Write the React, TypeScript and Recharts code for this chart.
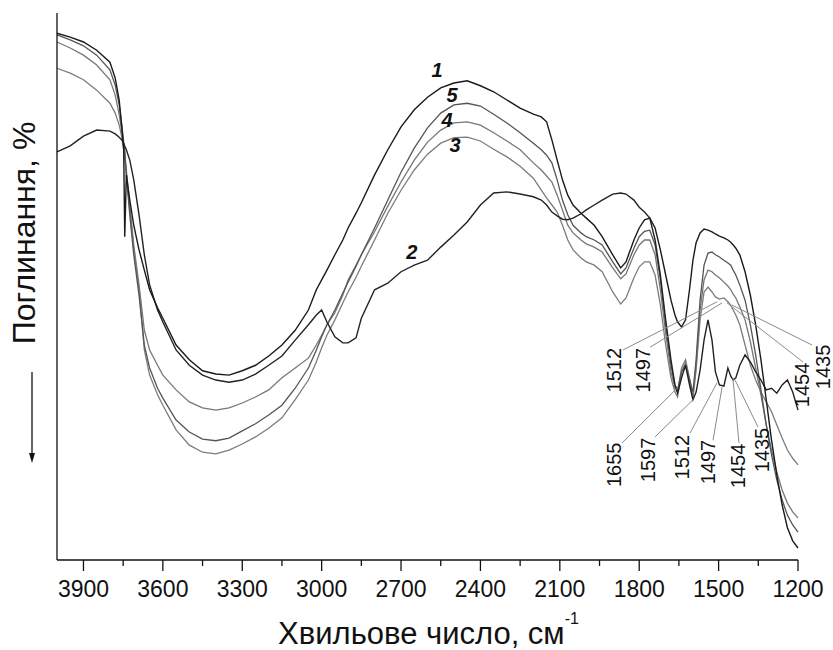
import { LineChart, Line, XAxis, YAxis, ReferenceLine, ReferenceDot } from 'recharts';

const FONT = '"Liberation Sans", Arial, sans-serif';

// wavenumber grid, cm-1 (shared by all five spectra)
const wavenumbers = [
  4000, 3950, 3900, 3850, 3800, 3780, 3765, 3755, 3748, 3744,
  3738, 3725, 3710, 3690, 3670, 3650, 3620, 3600, 3550, 3500,
  3450, 3400, 3350, 3300, 3250, 3200, 3150, 3100, 3050, 3020,
  3000, 2980, 2950, 2920, 2900, 2870, 2850, 2800, 2750, 2700,
  2650, 2600, 2550, 2500, 2450, 2400, 2350, 2300, 2250, 2200,
  2170, 2150, 2130, 2110, 2090, 2070, 2050, 2020, 2000, 1970,
  1940, 1900, 1870, 1850, 1820, 1800, 1780, 1760, 1740, 1720,
  1700, 1680, 1665, 1655, 1640, 1625, 1610, 1597, 1585, 1570,
  1555, 1540, 1525, 1512, 1497, 1480, 1465, 1454, 1445, 1435,
  1420, 1400, 1380, 1360, 1340, 1320, 1300, 1280, 1260, 1240,
  1220, 1200,
];

// absorbance, arbitrary units (0 = bottom of frame)
const curve1 = [
  96.3, 95.6, 94.7, 93.2, 91.0, 88.1, 84.1, 79.0, 75.0, 59.1,
  70.4, 65.8, 61.2, 56.7, 53.0, 49.4, 46.1, 44.2, 39.3, 36.6,
  34.6, 34.0, 33.8, 34.6, 35.6, 37.3, 39.3, 42.0, 45.7, 49.4,
  51.2, 53.0, 55.8, 58.5, 60.7, 63.4, 65.3, 70.4, 75.0, 79.2,
  82.3, 84.6, 86.3, 87.2, 87.6, 86.7, 85.6, 84.1, 82.6, 81.5,
  81.0, 80.1, 76.8, 73.1, 69.5, 66.7, 64.9, 63.4, 62.5, 61.2,
  59.1, 55.8, 53.4, 54.5, 58.5, 60.7, 62.2, 62.5, 60.7, 56.7,
  52.1, 47.5, 44.8, 43.5, 42.6, 43.9, 49.4, 54.8, 58.0, 59.8,
  60.5, 60.3, 60.0, 59.6, 59.2, 58.9, 58.5, 58.1, 57.6, 57.0,
  55.8, 52.7, 48.4, 43.0, 36.6, 29.3, 21.9, 15.5, 10.1, 5.9,
  3.5, 2.2,
];

const curve2 = [
  74.6, 75.7, 77.5, 78.6, 78.4, 77.9, 77.3, 76.8, 76.2, 75.7,
  75.0, 73.1, 69.5, 63.1, 55.8, 50.3, 45.7, 43.5, 38.4, 35.6,
  33.8, 32.9, 32.5, 32.9, 34.0, 35.6, 37.3, 40.2, 43.0, 44.8,
  45.7, 43.5, 40.8, 39.7, 39.7, 40.6, 44.2, 49.4, 50.6, 52.7,
  53.9, 54.8, 57.2, 59.4, 61.8, 64.9, 67.1, 67.3, 66.9, 66.4,
  65.8, 64.9, 63.6, 62.9, 62.3, 62.2, 62.5, 63.3, 64.0, 64.9,
  65.8, 66.9, 67.1, 66.9, 65.8, 64.5, 63.6, 62.5, 58.5, 52.1,
  43.9, 36.6, 32.0, 30.5, 33.3, 35.6, 32.0, 29.3, 30.7, 34.7,
  40.2, 43.9, 40.2, 34.4, 32.0, 31.8, 35.1, 33.6, 32.9, 33.3,
  35.6, 37.5, 36.2, 34.4, 32.9, 31.1, 31.4, 30.5, 32.0, 32.9,
  30.7, 27.4,
];

const curve3 = [
  89.9, 89.0, 87.8, 85.9, 83.5, 81.7, 79.5, 77.3, 75.0, 73.5,
  70.4, 64.0, 56.7, 49.4, 38.4, 33.8, 30.2, 28.3, 23.8, 21.0,
  19.7, 19.4, 20.1, 21.2, 22.5, 24.1, 26.0, 29.3, 32.9, 36.2,
  38.8, 41.1, 43.9, 47.0, 49.0, 51.7, 53.7, 58.5, 63.4, 67.6,
  71.3, 74.2, 76.2, 77.2, 77.3, 76.6, 75.1, 73.7, 72.0, 69.8,
  67.6, 66.2, 64.9, 63.6, 61.2, 58.5, 56.7, 55.2, 54.5, 53.9,
  52.7, 49.0, 46.8, 47.9, 51.6, 53.6, 54.5, 54.5, 52.1, 46.6,
  39.3, 33.3, 30.7, 29.8, 34.4, 36.0, 32.9, 29.6, 34.7, 43.9,
  49.0, 49.9, 49.0, 48.1, 47.7, 47.9, 47.2, 46.6, 45.7, 44.8,
  43.0, 39.3, 35.6, 32.9, 30.7, 28.9, 27.1, 24.7, 22.3, 20.1,
  18.6, 17.4,
];

const curve4 = [
  94.7, 93.6, 92.3, 90.5, 87.8, 85.0, 81.4, 78.2, 75.7, 74.0,
  71.3, 64.9, 57.6, 50.3, 42.0, 38.4, 35.6, 33.8, 31.1, 28.9,
  27.8, 27.4, 27.8, 28.7, 29.8, 31.1, 33.3, 35.1, 36.9, 39.3,
  41.1, 43.0, 45.2, 48.4, 51.2, 53.9, 55.8, 60.0, 64.7, 69.1,
  73.1, 76.4, 78.6, 79.9, 80.1, 79.5, 78.1, 76.6, 75.0, 72.6,
  71.3, 70.2, 69.1, 66.7, 64.0, 61.2, 59.8, 58.5, 57.8, 57.2,
  56.3, 53.4, 51.4, 52.3, 55.8, 57.6, 58.5, 58.5, 55.8, 49.4,
  41.5, 34.4, 31.4, 30.7, 35.1, 36.6, 33.3, 30.2, 35.6, 45.7,
  51.2, 53.0, 52.7, 52.1, 51.6, 50.8, 50.1, 49.4, 48.6, 47.9,
  46.3, 43.9, 39.9, 35.1, 30.2, 24.7, 20.1, 16.1, 12.8, 10.4,
  8.8, 7.7,
];

const curve5 = [
  96.0, 95.1, 94.0, 92.3, 89.6, 86.8, 83.2, 79.5, 76.4, 75.0,
  70.4, 63.1, 55.8, 48.4, 39.3, 35.1, 31.4, 29.6, 25.6, 23.4,
  22.1, 21.8, 22.3, 23.6, 24.9, 26.5, 28.3, 31.4, 35.1, 38.4,
  40.8, 43.0, 45.7, 48.8, 50.8, 53.7, 55.8, 60.7, 65.8, 70.9,
  75.3, 79.0, 81.7, 83.2, 83.5, 83.0, 81.5, 79.9, 78.1, 76.2,
  75.0, 74.0, 72.6, 69.5, 65.8, 63.1, 61.2, 59.8, 59.1, 58.5,
  57.6, 54.5, 52.3, 53.4, 57.0, 59.1, 60.1, 60.3, 57.6, 51.2,
  43.0, 35.6, 32.0, 31.1, 34.4, 35.6, 32.9, 30.7, 36.6, 47.5,
  53.9, 56.1, 56.3, 55.8, 55.4, 54.8, 54.3, 53.9, 53.0, 52.1,
  50.3, 47.5, 43.0, 37.5, 31.1, 24.7, 19.2, 14.6, 11.0, 8.2,
  6.4, 5.1,
];

// major ticks every 300, minor every 150
const xTicks = [3900, 3750, 3600, 3450, 3300, 3150, 3000, 2850, 2700, 2550, 2400, 2250, 2100, 1950, 1800, 1650, 1500, 1350, 1200];

// curve numbers
const curveLabels = [
  { text: '1', wn: 2564, abs: 89.6 },
  { text: '5', wn: 2507, abs: 85.0 },
  { text: '4', wn: 2526, abs: 80.4 },
  { text: '3', wn: 2496, abs: 75.9 },
  { text: '2', wn: 2659, abs: 56.3 },
];

// band assignments: label centre, leader start, leader end (on the curve)
const bandLabels = [
  { text: '1655', wn: 1895, abs: 17.4, fromWn: 1865, fromAbs: 21.4, toWn: 1653, toAbs: 31.6 },
  { text: '1597', wn: 1767, abs: 18.3, fromWn: 1740, fromAbs: 22.5, toWn: 1597, toAbs: 29.3 },
  { text: '1512', wn: 1638, abs: 18.8, fromWn: 1608, fromAbs: 23.2, toWn: 1506, toAbs: 32.4 },
  { text: '1497', wn: 1540, abs: 17.9, fromWn: 1521, fromAbs: 21.9, toWn: 1487, toAbs: 31.6 },
  { text: '1454', wn: 1427, abs: 17.2, fromWn: 1423, fromAbs: 21.4, toWn: 1446, toAbs: 33.3 },
  { text: '1435', wn: 1336, abs: 20.1, fromWn: 1351, fromAbs: 24.3, toWn: 1438, toAbs: 32.9 },
  { text: '1512', wn: 1895, abs: 34.7, fromWn: 1861, fromAbs: 38.4, toWn: 1506, toAbs: 47.2 },
  { text: '1497', wn: 1786, abs: 34.7, fromWn: 1759, fromAbs: 38.9, toWn: 1487, toAbs: 47.0 },
  { text: '1454', wn: 1185, abs: 32.0, fromWn: 1181, fromAbs: 36.2, toWn: 1468, toAbs: 47.0 },
  { text: '1435', wn: 1106, abs: 35.3, fromWn: 1147, fromAbs: 39.3, toWn: 1449, toAbs: 46.6 },
];

const rows = wavenumbers.map((wn, i) => ({
  wn,
  c1: curve1[i],
  c2: curve2[i],
  c3: curve3[i],
  c4: curve4[i],
  c5: curve5[i],
}));

const WnTick = ({ x, y, payload }: { x?: number; y?: number; payload?: { value: number } }) => {
  const v = payload?.value ?? 0;
  const major = v % 300 === 0;
  return (
    <g>
      <line x1={x} y1={y} x2={x} y2={(y ?? 0) + (major ? 11 : 6)} stroke="#111" strokeWidth={1.3} />
      {major && (
        <text x={x} y={(y ?? 0) + 37} textAnchor="middle" fontSize={23} fontFamily={FONT} fill="#111">
          {v}
        </text>
      )}
    </g>
  );
};

const XTitle = (props: any) => {
  const vb = props.viewBox || {};
  return (
    <text x={vb.x + vb.width / 2 + 1} y={vb.y + 84} textAnchor="middle" fontSize={31} fontFamily={FONT} fill="#111">
      Хвильове число, см
      <tspan dy={-20} fontSize={16}>-1</tspan>
    </text>
  );
};

const YTitle = (props: any) => {
  const vb = props.viewBox || {};
  const right = vb.x + vb.width;
  const ax = right - 25;
  return (
    <g>
      <text
        transform={`translate(${right - 22}, ${vb.y + 220}) rotate(-90)`}
        textAnchor="middle"
        fontSize={32}
        fontFamily={FONT}
        fill="#111"
      >
        Поглинання, %
      </text>
      <line x1={ax} y1={vb.y + 359} x2={ax} y2={vb.y + 443} stroke="#111" strokeWidth={1.3} />
      <polygon points={`${ax - 3},${vb.y + 440} ${ax + 3},${vb.y + 440} ${ax},${vb.y + 450}`} fill="#111" />
    </g>
  );
};

const curveNumber = (text: string) => (p: any) => (
  <text x={p.cx} y={p.cy} textAnchor="middle" dominantBaseline="central" fontSize={20} fontWeight="bold" fontStyle="italic" fontFamily={FONT} fill="#111">
    {text}
  </text>
);

const bandText = (text: string) => (p: any) => (
  <text
    transform={`translate(${p.cx}, ${p.cy}) rotate(-90)`}
    textAnchor="middle"
    dominantBaseline="central"
    fontSize={20}
    fontFamily={FONT}
    fill="#111"
  >
    {text}
  </text>
);

export default function App() {
  return (
    <div style={{ position: 'absolute', left: 0, top: 0, width: 833, height: 650, background: '#fff' }}>
      <LineChart width={833} height={650} data={rows} margin={{ top: 13, right: 35, bottom: 50, left: 0 }}>
        <XAxis
          dataKey="wn"
          type="number"
          domain={[1200, 4000]}
          reversed
          ticks={xTicks}
          interval={0}
          height={40}
          tickSize={0}
          tickMargin={0}
          tickLine={false}
          tick={<WnTick />}
          axisLine={{ stroke: '#111', strokeWidth: 1.3 }}
          label={{ content: XTitle }}
        />
        <YAxis
          type="number"
          domain={[0, 100]}
          width={57}
          tick={false}
          tickLine={false}
          axisLine={{ stroke: '#111', strokeWidth: 1.3 }}
          label={{ content: YTitle }}
        />
        <Line type="linear" dataKey="c3" stroke="#7c7c7c" strokeWidth={1.3} dot={false} isAnimationActive={false} />
        <Line type="linear" dataKey="c4" stroke="#777" strokeWidth={1.3} dot={false} isAnimationActive={false} />
        <Line type="linear" dataKey="c5" stroke="#555" strokeWidth={1.3} dot={false} isAnimationActive={false} />
        <Line type="linear" dataKey="c2" stroke="#222" strokeWidth={1.4} dot={false} isAnimationActive={false} />
        <Line type="linear" dataKey="c1" stroke="#1a1a1a" strokeWidth={1.4} dot={false} isAnimationActive={false} />
        {bandLabels.map((b, i) => (
          <ReferenceLine
            key={`ln${i}`}
            segment={[{ x: b.fromWn, y: b.fromAbs }, { x: b.toWn, y: b.toAbs }]}
            stroke="#8a8a8a"
            strokeWidth={1}
            ifOverflow="visible"
          />
        ))}
        {bandLabels.map((b, i) => (
          <ReferenceDot key={`bt${i}`} x={b.wn} y={b.abs} r={0} ifOverflow="visible" shape={bandText(b.text)} />
        ))}
        {curveLabels.map((c) => (
          <ReferenceDot key={`cl${c.text}`} x={c.wn} y={c.abs} r={0} ifOverflow="visible" shape={curveNumber(c.text)} />
        ))}
      </LineChart>
    </div>
  );
}
